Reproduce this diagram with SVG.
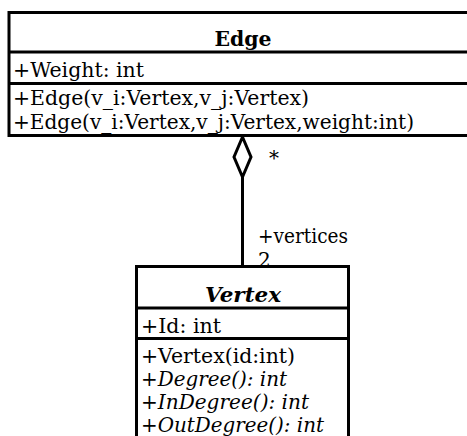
<svg xmlns="http://www.w3.org/2000/svg" width="467" height="436" viewBox="0 0 467 436">
  <style>
    text { font-family: "DejaVu Serif", "Liberation Serif", serif; font-size: 20px; fill: #000; }
    .title { font-weight: bold; text-anchor: middle; }
    .abstract { font-weight: bold; font-style: italic; text-anchor: middle; }
    .it { font-style: italic; }
    .box { fill: #fff; stroke: #000; stroke-width: 3; }
    .sep { stroke: #000; stroke-width: 3; }
    .conn { fill: none; stroke: #000; stroke-width: 3; }
    .diamond { fill: #fff; stroke: #000; stroke-width: 3; stroke-linejoin: miter; }
  </style>

  <!-- aggregation: Edge (whole) to Vertex (part) -->
  <g id="connectors">
    <line class="conn" x1="242.5" y1="177" x2="242.5" y2="266"/>
    <polygon class="diamond" points="242.5,137 251,157 242.5,177 234,157"/>
    <text x="269" y="165">*</text>
    <text x="258" y="243" textLength="90" lengthAdjust="spacingAndGlyphs">+vertices</text>
    <text x="258" y="267">2</text>
  </g>

  <!-- class Edge -->
  <g id="edge">
    <rect class="box" x="9" y="12.5" width="480" height="123"/>
    <line class="sep" x1="9" y1="52" x2="489" y2="52"/>
    <line class="sep" x1="9" y1="83.5" x2="489" y2="83.5"/>
    <text class="title" x="243" y="46" textLength="57" lengthAdjust="spacingAndGlyphs">Edge</text>
    <text x="13" y="77" textLength="131" lengthAdjust="spacingAndGlyphs">+Weight: int</text>
    <text x="13" y="105" textLength="296" lengthAdjust="spacingAndGlyphs">+Edge(v_i:Vertex,v_j:Vertex)</text>
    <text x="13" y="128.5" textLength="401" lengthAdjust="spacingAndGlyphs">+Edge(v_i:Vertex,v_j:Vertex,weight:int)</text>
  </g>

  <!-- abstract class Vertex -->
  <g id="vertex">
    <rect class="box" x="136.5" y="266.5" width="212" height="180"/>
    <line class="sep" x1="136.5" y1="308" x2="348.5" y2="308"/>
    <line class="sep" x1="136.5" y1="338.5" x2="348.5" y2="338.5"/>
    <text class="abstract" x="243" y="302" textLength="76" lengthAdjust="spacingAndGlyphs">Vertex</text>
    <text x="141" y="333" textLength="80" lengthAdjust="spacingAndGlyphs">+Id: int</text>
    <text x="141" y="363" textLength="154" lengthAdjust="spacingAndGlyphs">+Vertex(id:int)</text>
    <text class="it" x="141" y="386" textLength="146" lengthAdjust="spacingAndGlyphs">+Degree(): int</text>
    <text class="it" x="141" y="409" textLength="168" lengthAdjust="spacingAndGlyphs">+InDegree(): int</text>
    <text class="it" x="141" y="432" textLength="183" lengthAdjust="spacingAndGlyphs">+OutDegree(): int</text>
  </g>
</svg>
